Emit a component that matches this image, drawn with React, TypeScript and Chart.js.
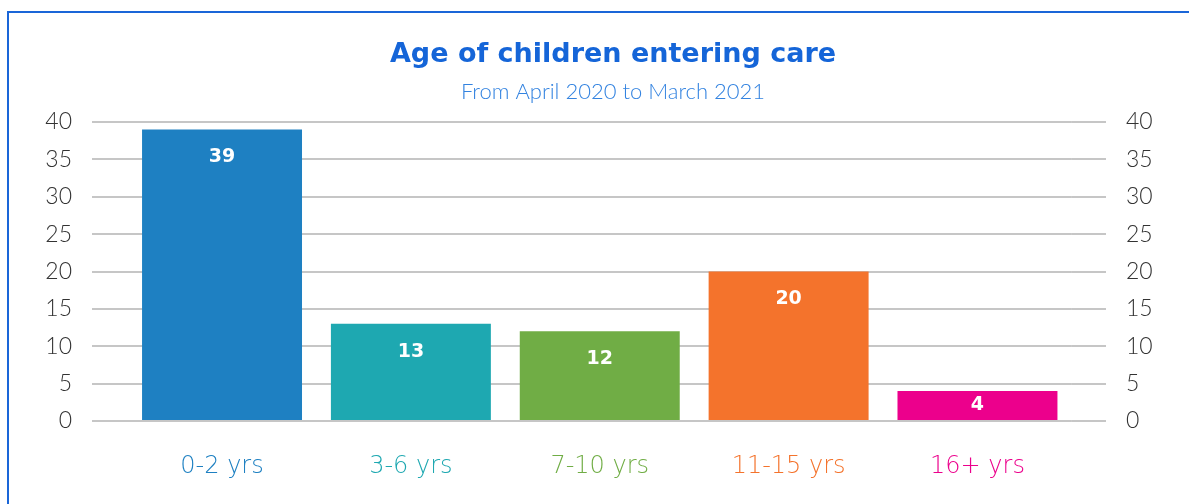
import React, { useEffect, useRef } from "react";
import { Chart, registerables } from "chart.js";

Chart.register(...registerables);

const categories = ["0-2 yrs", "3-6 yrs", "7-10 yrs", "11-15 yrs", "16+ yrs"];
const values = [39, 13, 12, 20, 4];
const barColors = ["#1e80c2", "#1ea8b1", "#70ad45", "#f4732c", "#ec008c"];
const yTicks = [0, 5, 10, 15, 20, 25, 30, 35, 40];
const titleText = "Age of children entering care";
const subtitleText = "From April 2020 to March 2021";

const LATO = "Lato, 'Open Sans', sans-serif";
const DEJA = "'DejaVu Sans', sans-serif";

const barLabels = {
  id: "barLabels",
  afterDatasetsDraw(chart: any) {
    const ctx = chart.ctx;
    const meta = chart.getDatasetMeta(0);
    ctx.save();
    ctx.fillStyle = "#ffffff";
    ctx.font = `bold 19px ${DEJA}`;
    ctx.textAlign = "center";
    ctx.textBaseline = "middle";
    meta.data.forEach((el: any, i: number) => {
      const y = Math.min(el.y + 28, (el.y + el.base) / 2);
      ctx.fillText(String(values[i]), el.x, y);
    });
    ctx.restore();
  },
};

export default function App() {
  const ref = useRef<HTMLCanvasElement | null>(null);
  useEffect(() => {
    if (!ref.current) return;
    const chart = new Chart(ref.current, {
      type: "bar",
      data: {
        labels: categories,
        datasets: [
          {
            data: values,
            backgroundColor: barColors,
            borderWidth: 0,
            barPercentage: 0.847,
            categoryPercentage: 1,
            yAxisID: "y",
          },
        ],
      },
      options: {
        animation: false,
        responsive: true,
        maintainAspectRatio: false,
        layout: { padding: { top: 37.2, left: 37, right: 0, bottom: 0 } },
        plugins: {
          legend: { display: false },
          tooltip: { enabled: false },
          title: {
            display: true,
            text: titleText,
            color: "#1565d8",
            font: { family: DEJA, size: 27, weight: "bold", lineHeight: 1.2 },
            padding: { top: 1.6, bottom: 0 },
          },
          subtitle: {
            display: true,
            text: subtitleText,
            color: "#3383e0",
            font: { family: LATO, size: 22, weight: "300", lineHeight: 1.2 },
            padding: { top: 7.4, bottom: 17 },
          },
        },
        scales: {
          x: {
            offset: true,
            grid: { display: false },
            border: { display: false },
            ticks: {
              color: (c: any) => barColors[c.index] || "#333",
              font: { family: DEJA, size: 24, weight: "200" },
              padding: 23,
              maxRotation: 0,
              autoSkip: false,
            },
            afterFit: (s: any) => {
              s.height = 83;
            },
          },
          y: {
            position: "left",
            min: 0,
            max: 40,
            afterBuildTicks: (s: any) => {
              s.ticks = yTicks.map((v) => ({ value: v }));
            },
            grid: {
              color: "#c6c6c6",
              lineWidth: 2,
              drawTicks: true,
              tickLength: 35.6,
            },
            border: { display: false },
            ticks: {
              color: "#333333",
              font: { family: LATO, size: 23, weight: "300" },
              padding: 20,
            },
            afterFit: (s: any) => {
              s.width = 127.6 - 37;
            },
          },
          y2: {
            position: "right",
            min: 0,
            max: 40,
            afterBuildTicks: (s: any) => {
              s.ticks = yTicks.map((v) => ({ value: v }));
            },
            grid: {
              color: "#c6c6c6",
              lineWidth: 2,
              drawOnChartArea: false,
              drawTicks: true,
              tickLength: 34.1,
            },
            border: { display: false },
            ticks: {
              color: "#333333",
              font: { family: LATO, size: 23, weight: "300" },
              padding: 20,
            },
            afterFit: (s: any) => {
              s.width = 1189 - 1071.9;
            },
          },
        },
      },
      plugins: [barLabels],
    });
    return () => chart.destroy();
  }, []);

  return (
    <div
      style={{
        position: "fixed",
        left: 0,
        top: 0,
        width: 1189,
        height: 504,
        overflow: "hidden",
        background: "#ffffff",
      }}
    >
      <div
        style={{
          position: "absolute",
          left: 7,
          top: 11,
          width: 1300,
          height: 600,
          borderLeft: "2px solid #1a66d8",
          borderTop: "2px solid #1a66d8",
        }}
      />
      <div style={{ position: "absolute", left: 0, top: 0, width: 1189, height: 504 }}>
        <canvas ref={ref} />
      </div>
    </div>
  );
}
